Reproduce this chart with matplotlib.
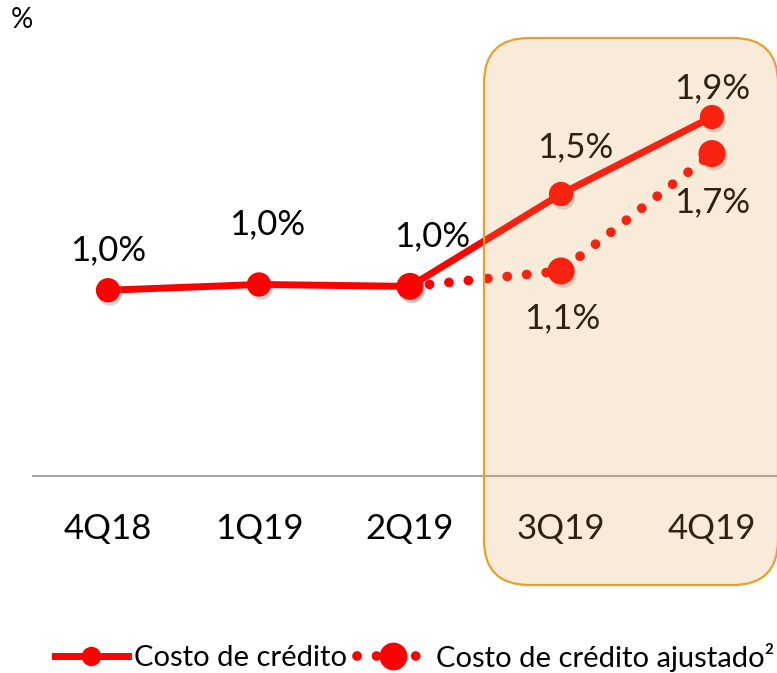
import numpy as np
import matplotlib
matplotlib.use("Agg")
import matplotlib.pyplot as plt
from matplotlib.patches import FancyBboxPatch
from matplotlib.transforms import IdentityTransform
from matplotlib.lines import Line2D
import matplotlib.patheffects as pe

plt.rcParams['font.family'] = ['Lato', 'DejaVu Sans']

# ---------------- data ----------------
categories = ["4Q18", "1Q19", "2Q19", "3Q19", "4Q19"]
costo_credito = [1.00, 1.03, 1.02, 1.50, 1.90]
costo_ajustado = [np.nan, np.nan, 1.02, 1.10, 1.71]
series_names = ["Costo de crédito", "Costo de crédito ajustado²"]
unit_label = "%"

# label offsets (points) for data labels
off_solid = [(0, 29), (6, 43), (16, 36), (10, 34), (0, 21)]
off_adj = [None, None, None, (1, -34), (0, -35)]

W, H, DPI = 777, 673, 100
fig = plt.figure(figsize=(W / DPI, H / DPI), dpi=DPI)

# axes placed in pixel terms
left_px, right_px, top_px, bot_px = 32.5, 787.5, 40, 476
ax = fig.add_axes([left_px / W, 1 - bot_px / H, (right_px - left_px) / W, (bot_px - top_px) / H])
ax.set_xlim(-0.5, len(categories) - 0.5)
ax.set_ylim(0.035, 2.30)

x = np.arange(len(categories))
red = "#FF0000"

shadow = [pe.SimplePatchShadow(offset=(1.5, -2.5), shadow_rgbFace="#808080", alpha=0.3), pe.Normal()]

# dotted adjusted series
ax.plot(x, costo_ajustado, color=red, lw=7, linestyle=(0, (0.01, 2.0)),
        dash_capstyle="round", solid_capstyle="round", zorder=2)
ax.plot(x, costo_ajustado, color=red, linestyle="none", marker="o", markersize=19.5,
        markeredgewidth=0, zorder=2.2, path_effects=shadow)
# solid series
ax.plot(x, costo_credito, color=red, lw=5, solid_capstyle="round", zorder=2.4)
ax.plot(x, costo_credito, color=red, linestyle="none", marker="o", markersize=17.5,
        markeredgewidth=0, zorder=2.5, path_effects=shadow)

def fmt(v):
    return f"{v:.1f}".replace(".", ",") + "%"

for xi, v, off in zip(x, costo_credito, off_solid):
    ax.annotate(fmt(v), (xi, v), xytext=off, textcoords="offset points",
                ha="center", va="center", fontsize=25, color="black", zorder=3)
for xi, v, off in zip(x, costo_ajustado, off_adj):
    if off is None or np.isnan(v):
        continue
    ax.annotate(fmt(v), (xi, v), xytext=off, textcoords="offset points",
                ha="center", va="center", fontsize=25, color="black", zorder=3)

# axes styling
for s in ["left", "right", "top"]:
    ax.spines[s].set_visible(False)
ax.spines["bottom"].set_color("#A6A6A6")
ax.spines["bottom"].set_linewidth(1.5)
ax.set_yticks([])
ax.set_xticks(x)
ax.set_xticklabels(categories, fontsize=25)
ax.tick_params(axis="x", length=0, pad=27)
ax.patch.set_visible(False)

# highlight box (overlay in pixel coords)
bx0, bx1, by_top, by_bot = 484, 778, 38, 585
box = FancyBboxPatch((bx0, H - by_bot), bx1 - bx0, by_bot - by_top,
                     boxstyle="round,pad=0,rounding_size=45",
                     transform=IdentityTransform(),
                     facecolor=(0.87, 0.64, 0.30, 0.21), edgecolor="#E89F2C",
                     linewidth=1.6, zorder=10, clip_on=False)
ax.add_patch(box)

# unit label
fig.text(22 / W, 1 - 20 / H, unit_label, ha="center", va="center", fontsize=20)

# legend
h1 = Line2D([], [], color=red, lw=5, marker="o", markersize=14, markeredgewidth=0)
h2 = Line2D([], [], color=red, lw=7, linestyle=(0, (0.01, 2.0)), dash_capstyle="round",
            marker="o", markersize=20, markeredgewidth=0)
fig.legend([h1, h2], series_names, loc="center left",
           bbox_to_anchor=(55 / W, 1 - 657 / H), ncol=2, frameon=False,
           fontsize=21, handlelength=2.5, handletextpad=0.2, columnspacing=0.35,
           borderpad=0, borderaxespad=0, numpoints=1)

fig.savefig("out.png", dpi=DPI)
